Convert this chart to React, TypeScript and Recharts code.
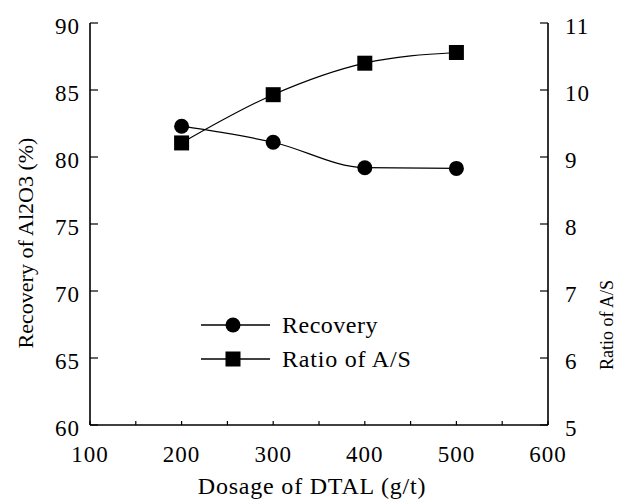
import React from 'react';
import { LineChart, Line, XAxis, YAxis, Legend } from 'recharts';

const dosage = [200, 300, 400, 500];
const recovery = [82.3, 81.1, 79.2, 79.15];
const ratio = [9.21, 9.93, 10.4, 10.56];
const xTicks = [100, 150, 200, 250, 300, 350, 400, 450, 500, 550, 600];
const leftTicks = [60, 65, 70, 75, 80, 85, 90];
const rightTicks = [5, 6, 7, 8, 9, 10, 11];
const seriesNames = ['Recovery', 'Ratio of A/S'];

const FONT = 'Liberation Serif';

const data = dosage.map((d, i) => ({ dosage: d, recovery: recovery[i], ratio: ratio[i] }));

const SquareDot = (props: any) => {
  const { cx, cy } = props;
  if (cx == null || cy == null) return null;
  return <rect x={cx - 7.5} y={cy - 7.5} width={15} height={15} fill="#000" />;
};
const CircleDot = (props: any) => {
  const { cx, cy } = props;
  if (cx == null || cy == null) return null;
  return <circle cx={cx} cy={cy} r={7.5} fill="#000" />;
};

const LegendContent = () => (
  <svg width={260} height={70}>
    <line x1={6} x2={75} y1={15} y2={15} stroke="#000" strokeWidth={1.3} />
    <circle cx={38} cy={15} r={7.5} fill="#000" />
    <text x={87} y={15} dominantBaseline="central" fontFamily={FONT} fontSize={24} letterSpacing={0.5} fill="#000">{seriesNames[0]}</text>
    <line x1={6} x2={75} y1={49} y2={49} stroke="#000" strokeWidth={1.3} />
    <rect x={30.5} y={41.5} width={15} height={15} fill="#000" />
    <text x={87} y={49} dominantBaseline="central" fontFamily={FONT} fontSize={24} letterSpacing={0.8} fill="#000">{seriesNames[1]}</text>
  </svg>
);

const LeftLabel = (props: any) => {
  const vb = props.viewBox || {};
  const cx = 25;
  const cy = vb.y + vb.height / 2 + 19;
  return (
    <text x={cx} y={cy} transform={`rotate(-90 ${cx} ${cy})`} textAnchor="middle" dominantBaseline="central" fontFamily={FONT} fontSize={22} fill="#000">
      Recovery of Al2O3 (%)
    </text>
  );
};
const RightLabel = (props: any) => {
  const vb = props.viewBox || {};
  const cx = 607;
  const cy = vb.y + vb.height / 2 + 101;
  return (
    <text x={cx} y={cy} transform={`rotate(-90 ${cx} ${cy})`} textAnchor="middle" dominantBaseline="central" fontFamily={FONT} fontSize={18} fill="#000">
      Ratio of A/S
    </text>
  );
};
const BottomLabel = (props: any) => {
  const vb = props.viewBox || {};
  const cx = vb.x + vb.width / 2 - 7;
  return (
    <text x={cx} y={486} textAnchor="middle" dominantBaseline="central" fontFamily={FONT} fontSize={24} letterSpacing={0.8} fill="#000">
      Dosage of DTAL (g/t)
    </text>
  );
};

const tickStyle = { fill: '#000', fontSize: 23, letterSpacing: 1, fontFamily: FONT };

export default function App() {
  return (
    <div style={{ position: 'absolute', left: 0, top: 0, fontFamily: FONT, background: '#fff' }}>
      <LineChart width={617} height={501} data={data} margin={{ top: 23, right: 0, bottom: 0, left: 0 }}>
        <XAxis
          xAxisId="x"
          dataKey="dosage"
          type="number"
          domain={[100, 600]}
          ticks={xTicks}
          interval={0}
          tickFormatter={(v: number) => (v % 100 === 0 ? String(v) : '')}
          height={76}
          tickSize={-4}
          tickMargin={25}
          axisLine={{ stroke: '#000', strokeWidth: 1.6 }}
          tickLine={{ stroke: '#000', strokeWidth: 1.2 }}
          tick={tickStyle}
          label={<BottomLabel />}
        />
        <XAxis
          xAxisId="top"
          orientation="top"
          type="number"
          domain={[100, 600]}
          height={0}
          tick={false}
          tickLine={false}
          axisLine={{ stroke: '#000', strokeWidth: 1.6 }}
        />
        <YAxis
          yAxisId="left"
          domain={[60, 90]}
          ticks={leftTicks}
          interval={0}
          width={90}
          tickSize={-8}
          tickMargin={18}
          axisLine={{ stroke: '#000', strokeWidth: 1.6 }}
          tickLine={{ stroke: '#000', strokeWidth: 1.2 }}
          tick={{ ...tickStyle, dy: 3 }}
          label={<LeftLabel />}
        />
        <YAxis
          yAxisId="right"
          orientation="right"
          domain={[5, 11]}
          ticks={rightTicks}
          interval={0}
          width={69}
          tickSize={-8}
          tickMargin={25}
          axisLine={{ stroke: '#000', strokeWidth: 1.6 }}
          tickLine={{ stroke: '#000', strokeWidth: 1.2 }}
          tick={{ ...tickStyle, dy: 3 }}
          label={<RightLabel />}
        />
        <Line
          xAxisId="x"
          yAxisId="left"
          type="monotone"
          dataKey="recovery"
          stroke="#000"
          strokeWidth={1.2}
          dot={<CircleDot />}
          isAnimationActive={false}
        />
        <Line
          xAxisId="x"
          yAxisId="right"
          type="monotone"
          dataKey="ratio"
          stroke="#000"
          strokeWidth={1.2}
          dot={<SquareDot />}
          isAnimationActive={false}
        />
        <Legend
          layout="vertical"
          align="center"
          verticalAlign="middle"
          wrapperStyle={{ left: 195, top: 310, width: 260 }}
          content={<LegendContent />}
        />
      </LineChart>
    </div>
  );
}
